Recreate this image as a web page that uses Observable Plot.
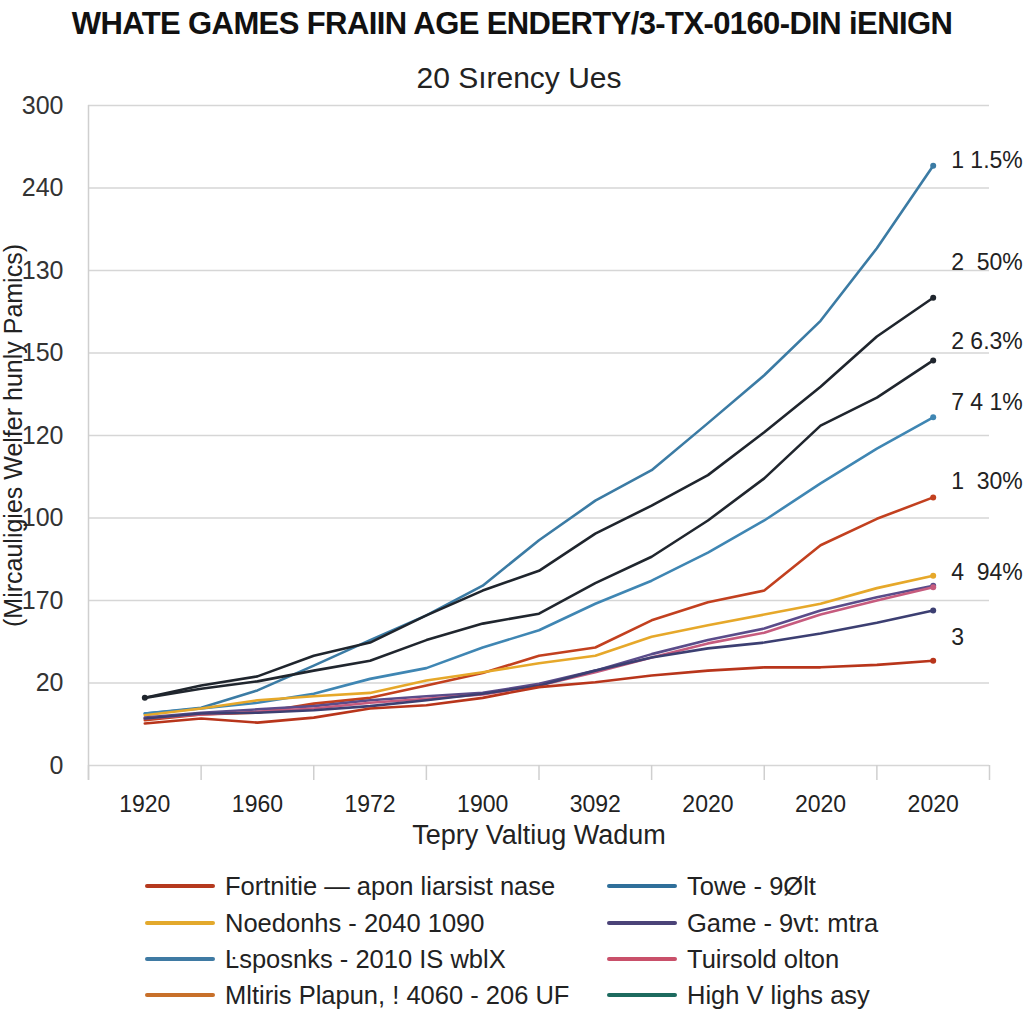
<!DOCTYPE html>
<html><head><meta charset="utf-8">
<script src="https://cdn.jsdelivr.net/npm/d3@7"></script>
<script src="https://cdn.jsdelivr.net/npm/@observablehq/plot@0.6"></script>
<style>
body{margin:0;background:#fff;font-family:"Liberation Sans",Arial,sans-serif;}
#wrap{position:relative;width:1024px;height:1024px;overflow:hidden;background:#fff}
#title{position:absolute;top:6px;left:0;width:1024px;text-align:center;font-weight:bold;font-size:31px;letter-spacing:-0.6px;color:#111;white-space:nowrap;z-index:2}
#subtitle{position:absolute;top:61px;left:0;width:1038px;text-align:center;font-size:30px;color:#222;z-index:2}
#chart{position:absolute;top:90px;left:0;z-index:1}
.item{position:absolute;display:flex;align-items:center;font-size:25.5px;color:#222;white-space:nowrap;height:30px}
.sw{width:70px;height:4px;margin-right:10px;border-radius:2px}
</style></head><body>
<div id="wrap">
<div id="title"></div>
<div id="subtitle"></div>
<div id="chart"></div>
<div id="legend"></div>
</div>
<script>
const titleText = "WHATE GAMES FRAIIN AGE ENDERTY/3-TX-0160-DIN iENIGN";
const subtitleText = "20 Sırency Ues";
const xTitle = "Tepry Valtiug Wadum";
const yTitle = "(Mircauligies Welfer hunly Pamics)";

const years = ["1920","1960","1972","1900","3092","2020","2020","2020"];
const yTickLabels = ["0","20","170","100","120","150","130","240","300"];
const steps = [0,0.5,1,1.5,2,2.5,3,3.5,4,4.5,5,5.5,6,6.5,7];

const seriesNames = ["topBlue","darkUpper","darkLower","lowBlue","redUpper","gold","purple","pink","navy","redLower"];
const seriesColors = ["#3b7ba4","#1f252d","#20262e","#3f86b3","#c2401f","#e6a82a","#5a4c8a","#c65b7e","#3c3f72","#b8351b"];

const topBlue   = [0.63,0.70,0.91,1.21,1.52,1.82,2.18,2.73,3.21,3.58,4.15,4.73,5.39,6.27,7.27];
const darkUpper = [0.82,0.97,1.08,1.33,1.49,1.82,2.12,2.36,2.81,3.15,3.52,4.04,4.59,5.20,5.67];
const darkLower = [0.82,0.93,1.02,1.15,1.27,1.52,1.72,1.84,2.21,2.53,2.97,3.48,4.12,4.46,4.91];
const lowBlue   = [0.63,0.69,0.76,0.87,1.05,1.18,1.43,1.64,1.96,2.24,2.58,2.97,3.42,3.84,4.22];
const redUpper  = [0.55,0.62,0.64,0.75,0.82,0.97,1.12,1.33,1.43,1.76,1.98,2.12,2.67,2.99,3.25];
const gold      = [0.61,0.69,0.79,0.84,0.88,1.03,1.13,1.24,1.33,1.56,1.70,1.83,1.96,2.15,2.30];
const purple    = [0.58,0.64,0.68,0.72,0.79,0.84,0.88,0.99,1.15,1.35,1.52,1.66,1.88,2.04,2.18];
const pink      = [0.57,0.62,0.65,0.69,0.76,0.81,0.86,0.97,1.13,1.31,1.48,1.61,1.83,2.00,2.16];
const navy      = [0.57,0.63,0.64,0.67,0.72,0.79,0.87,0.97,1.15,1.31,1.42,1.49,1.60,1.73,1.88];
const redLower  = [0.51,0.57,0.52,0.58,0.69,0.73,0.82,0.95,1.01,1.09,1.15,1.19,1.19,1.22,1.27];

const endLabelText = ["1 1.5%","2  50%","2 6.3%","7 4 1%","1  30%","4  94%","3"];
const endLabelY = [7.33,6.10,5.14,4.40,3.44,2.34,1.55];

const legendNames = ["Fortnitie — apon liarsist nase","Noedonhs - 2040 1090","Ŀsposnks - 2010 IS wblX","Mltiris Plapun, ! 4060 - 206 UF","Towe - 9Ølt","Game - 9vt: mtra","Tuirsold olton","High V lighs asy"];
const legendColors = ["#b5391e","#e3a92c","#3f7aa3","#c8702a","#2f6f9a","#4b4378","#c9506a","#1d6b5f"];

const allSeries = [topBlue,darkUpper,darkLower,lowBlue,redUpper,gold,purple,pink,navy,redLower];
const rows = [];
allSeries.forEach((vals, si) => vals.forEach((v, i) => rows.push({s: seriesNames[si], x: steps[i], y: v})));
const endLabels = endLabelText.map((t, i) => ({t, y: endLabelY[i]}));

document.getElementById("title").textContent = titleText;
document.getElementById("subtitle").textContent = subtitleText;

const xIdx = years.map((_, i) => i);
const xBounds = years.map((_, i) => i - 0.5).concat([years.length - 0.5]);
const yIdx = yTickLabels.map((_, i) => i);

const chart = Plot.plot({
  width: 1024, height: 770,
  marginTop: 15, marginBottom: 95, marginLeft: 88, marginRight: 35,
  x: {domain: [-0.5, years.length - 0.5]},
  y: {domain: [0, yTickLabels.length - 1]},
  color: {domain: seriesNames, range: seriesColors},
  style: {fontFamily: "'Liberation Sans', Arial, sans-serif", background: "transparent", overflow: "visible", color: "#222"},
  marks: [
    Plot.gridY(yIdx, {stroke: "#d6d6d6", strokeOpacity: 1, strokeWidth: 1.5}),
    Plot.axisY(yIdx, {tickSize: 0, tickPadding: 25, tickFormat: i => yTickLabels[i], fontSize: 25, fill: "#333", label: null}),
    Plot.axisX(xBounds, {tickSize: 15, tickFormat: () => "", stroke: "#cfcfcf", strokeWidth: 1.5, label: null}),
    Plot.axisX(xIdx, {tickSize: 0, tickPadding: 30, tickFormat: i => years[i], fontSize: 23, fill: "#222", label: null}),
    Plot.ruleX([-0.5], {y1: yTickLabels.length - 1, y2: -0.18, stroke: "#cfcfcf", strokeWidth: 1.5}),
    Plot.text([xTitle], {frameAnchor: "bottom", dy: 78, fontSize: 27, fill: "#222"}),
    Plot.text([yTitle], {frameAnchor: "left", dx: -75, rotate: -90, textAnchor: "middle", fontSize: 25, fill: "#222"}),
    Plot.line(rows, {x: "x", y: "y", z: "s", stroke: "s", strokeWidth: 2.6, strokeLinejoin: "round"}),
    Plot.dot(rows, {filter: d => d.x === steps[steps.length - 1], x: "x", y: "y", fill: "s", r: 3}),
    Plot.dot(rows, {filter: d => d.x === 0 && (d.s === "darkUpper"), x: "x", y: "y", fill: "s", r: 3}),
    Plot.text(endLabels, {x: () => steps[steps.length - 1], y: "y", text: "t", dx: 18, textAnchor: "start", fontSize: 23, fill: "#222"})
  ]
});
document.getElementById("chart").appendChild(chart);

const legend = document.getElementById("legend");
const rowY = [886, 923, 959, 995];
legendNames.forEach((n, i) => {
  const col = Math.floor(i / 4), r = i % 4;
  const el = document.createElement("div");
  el.className = "item";
  el.style.left = (col === 0 ? 145 : 607) + "px";
  el.style.top = (rowY[r] - 15) + "px";
  const sw = document.createElement("div");
  sw.className = "sw";
  sw.style.background = legendColors[i];
  const tx = document.createElement("span");
  tx.textContent = n;
  el.appendChild(sw); el.appendChild(tx);
  legend.appendChild(el);
});
</script>
</body></html>
